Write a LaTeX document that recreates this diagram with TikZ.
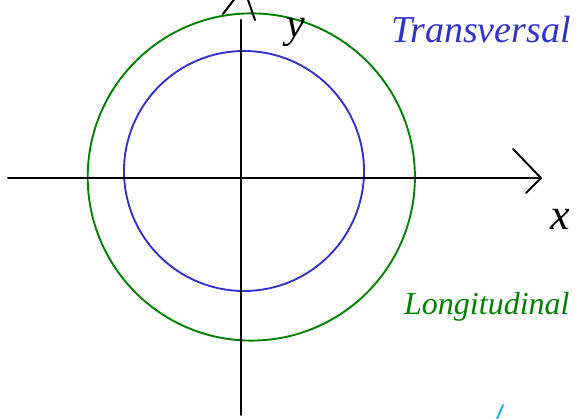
\documentclass[tikz,border=0pt]{standalone}
\usepackage{fontspec}
\setmainfont{Liberation Serif}
\definecolor{penblue}{RGB}{51,51,204}
\definecolor{pengreen}{RGB}{0,128,0}
\definecolor{pencyan}{RGB}{0,176,240}
\tikzset{
  axis/.style={black, line width=2pt, line cap=round, line join=round},
  ring/.style={line width=1.9pt},
  hand/.style={font=\itshape\fontsize{30}{30}\selectfont, inner sep=0pt, anchor=west}
}
\begin{document}
\begin{tikzpicture}[x=1pt,y=1pt]
\useasboundingbox (0,0) rectangle (576,419);
\clip (0,0) rectangle (576,419);
% centres and axis ends
\coordinate (Og) at (251.3,242);
\coordinate (Ob) at (244,248);
\coordinate (xl) at (8,241);
\coordinate (xr) at (541,241);
\coordinate (yb) at (241,4);
\coordinate (yt) at (241,399);
\coordinate (xa1) at (513,270);
\coordinate (xa2) at (526,226);
\coordinate (ya1) at (223,405);
\coordinate (ya2) at (236,422);
\coordinate (ya3) at (247,422);
\coordinate (ya4) at (255,399);
% circles
\draw[ring, pengreen] (Og) circle (163.6);
\draw[ring, penblue] (Ob) circle (120);
% axes
\draw[axis] (xl) -- (xr);
\draw[axis] (yb) -- (yt);
\draw[axis] (xa1) -- (xr) -- (xa2);
\draw[axis] (ya1) -- (ya2);
\draw[axis] (ya3) -- (ya4);
% labels
\node[font=\itshape\fontsize{42}{42}\selectfont, inner sep=0pt, anchor=base] (ylab) at (296,381) {y};
\node[font=\itshape\fontsize{44}{44}\selectfont, inner sep=0pt, anchor=west] (xlab) at (550,200) {x};
\node[hand, font=\itshape\fontsize{38}{38}\selectfont, text=penblue] (trans) at (391,389) {Transversal};
\node[hand, font=\itshape\fontsize{32}{32}\selectfont, text=pengreen] (longi) at (404,112) {Longitudinal};
\coordinate (c1) at (497,0);
\coordinate (c2) at (503,14);
\draw[pencyan, line width=1.8pt, line cap=round] (c1) -- (c2);
\end{tikzpicture}
\end{document}
